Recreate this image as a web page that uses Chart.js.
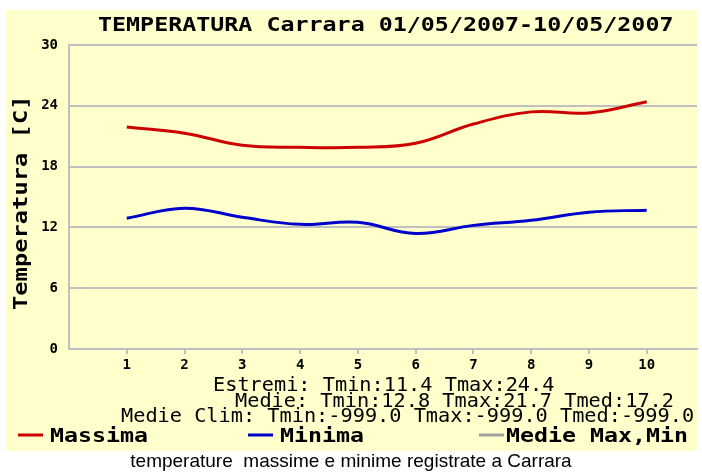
<!DOCTYPE html>
<html>
<head>
<meta charset="utf-8">
<script src="https://cdn.jsdelivr.net/npm/chart.js@4.4.1/dist/chart.umd.min.js"></script>
<style>
  html, body { margin: 0; padding: 0; background: #fff; }
  #box { position: relative; width: 702px; height: 472px; }
  #didascalia {
    position: absolute; left: 0; top: 450px; width: 702px; text-align: center;
    font: 19px "Liberation Sans", Arial, sans-serif; color: #000; white-space: pre;
  }
</style>
</head>
<body>
<div id="box">
  <canvas id="grafico" width="702" height="472"></canvas>
  <div id="didascalia">temperature  massime e minime registrate a Carrara</div>
</div>
<script>
const giorni = [1, 2, 3, 4, 5, 6, 7, 8, 9, 10];
const massime = [21.9, 21.3, 20.1, 19.9, 19.9, 20.3, 22.2, 23.4, 23.3, 24.4];
const minime = [12.9, 13.9, 13.0, 12.3, 12.5, 11.4, 12.2, 12.7, 13.5, 13.7];
const tickY = [0, 6, 12, 18, 24, 30];

const titolo = "TEMPERATURA Carrara 01/05/2007-10/05/2007";
const titoloY = "Temperatura [C]";
const righeStat = [
  "Estremi: Tmin:11.4 Tmax:24.4",
  "Medie: Tmin:12.8 Tmax:21.7 Tmed:17.2",
  "Medie Clim: Tmin:-999.0 Tmax:-999.0 Tmed:-999.0"
];
const vociLegenda = ["Massima", "Minima", "Medie Max,Min"];
const coloriLegenda = ["#cc0000", "#0000cc", "#a0a0a0"];

const MONO = '"DejaVu Sans Mono", monospace';
const grigio = '#c0c0c0';

function scrivi(ctx, testo, x, y, font, sx, ruota) {
  ctx.save();
  ctx.translate(x, y);
  if (ruota) ctx.rotate(-Math.PI / 2);
  ctx.scale(sx, 1);
  ctx.font = font;
  ctx.fillStyle = '#000';
  ctx.textAlign = 'left';
  ctx.textBaseline = 'alphabetic';
  ctx.fillText(testo, 0, 0);
  ctx.restore();
}

const sfondo = {
  id: 'sfondo',
  beforeDraw(chart) {
    const ctx = chart.ctx;
    ctx.save();
    ctx.fillStyle = '#fff';
    ctx.fillRect(0, 0, chart.width, chart.height);
    ctx.fillStyle = '#ffffcc';
    ctx.fillRect(6, 10, 691, 441);
    ctx.restore();
  }
};

const testi = {
  id: 'testi',
  afterDraw(chart) {
    const ctx = chart.ctx;
    scrivi(ctx, titolo, 98, 31, 'bold 19px ' + MONO, 1.227, false);
    scrivi(ctx, titoloY, 27, 310, 'bold 19px ' + MONO, 1.25, true);

    const posStat = [[213, 391], [235, 407], [121, 422]];
    righeStat.forEach((r, i) => {
      scrivi(ctx, r, posStat[i][0], posStat[i][1], '19px ' + MONO, 1.066, false);
    });

    const posLeg = [[18, 50], [248, 280], [479, 506]];
    vociLegenda.forEach((v, i) => {
      ctx.save();
      ctx.strokeStyle = coloriLegenda[i];
      ctx.lineWidth = 3;
      ctx.beginPath();
      ctx.moveTo(posLeg[i][0], 435);
      ctx.lineTo(posLeg[i][0] + 25, 435);
      ctx.stroke();
      ctx.restore();
      scrivi(ctx, v, posLeg[i][1], 442, 'bold 20px ' + MONO, 1.163, false);
    });
  }
};

new Chart(document.getElementById('grafico'), {
  type: 'line',
  data: {
    datasets: [
      {
        label: vociLegenda[0],
        data: giorni.map((g, i) => ({ x: g, y: massime[i] })),
        borderColor: '#cc0000',
        borderWidth: 3,
        pointRadius: 0,
        tension: 0.4
      },
      {
        label: vociLegenda[1],
        data: giorni.map((g, i) => ({ x: g, y: minime[i] })),
        borderColor: '#0000cc',
        borderWidth: 3,
        pointRadius: 0,
        tension: 0.4
      }
    ]
  },
  options: {
    responsive: false,
    animation: false,
    devicePixelRatio: 1,
    layout: { padding: { top: 45, right: 5, left: 0, bottom: 0 } },
    plugins: {
      legend: { display: false },
      title: { display: false },
      tooltip: { enabled: false }
    },
    scales: {
      x: {
        type: 'linear',
        min: 0,
        max: 10.87,
        afterBuildTicks: s => { s.ticks = giorni.map(v => ({ value: v })); },
        afterFit: s => { s.height = 123; },
        grid: { drawOnChartArea: false, drawTicks: true, tickLength: 5, color: grigio, lineWidth: 2 },
        border: { color: grigio, width: 2 },
        ticks: { color: '#000', font: { family: MONO, size: 14, weight: 'bold' }, padding: 3, maxRotation: 0, autoSkip: false }
      },
      y: {
        min: 0,
        max: 30,
        afterBuildTicks: s => { s.ticks = tickY.map(v => ({ value: v })); },
        afterFit: s => { s.width = 69; },
        grid: { color: grigio, lineWidth: 2, drawTicks: false },
        border: { color: grigio, width: 2 },
        ticks: { color: '#000', font: { family: MONO, size: 14, weight: 'bold' }, padding: 11 }
      }
    }
  },
  plugins: [sfondo, testi]
});
</script>
</body>
</html>
